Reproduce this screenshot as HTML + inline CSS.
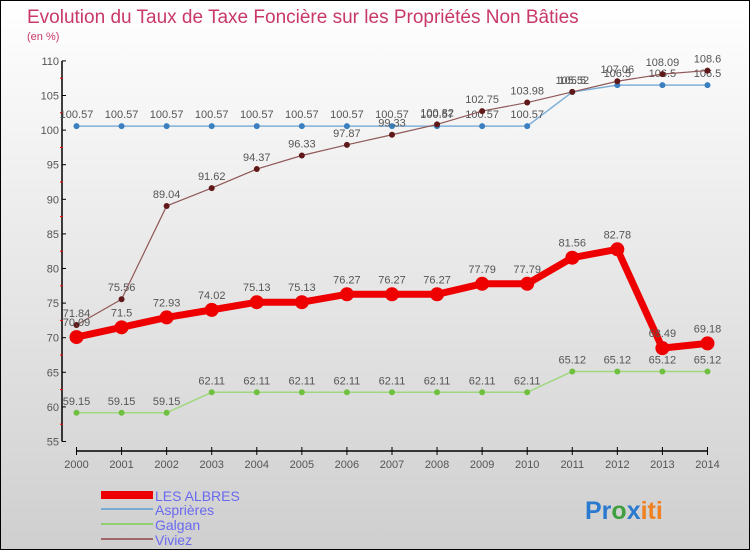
<!DOCTYPE html>
<html><head><meta charset="utf-8"><style>
body{margin:0;}
#c{width:750px;height:550px;position:relative;box-sizing:border-box;border:1px solid #000;background:linear-gradient(#ffffff,#cfcfcf);font-family:"Liberation Sans",sans-serif;overflow:hidden}
svg text{font-family:"Liberation Sans",sans-serif}
</style></head><body>
<div id="c">
<svg width="750" height="550" id="svg">
<text x="26" y="22" font-size="19" fill="#c8386a">Evolution du Taux de Taxe Foncière sur les Propriétés Non Bâties</text>
<text x="26" y="39" font-size="11" fill="#c8386a">(en %)</text>
<g id="axes"></g><g id="series"></g>
<g>
<rect x="100" y="490" width="52" height="8" fill="#e00"/>
<text x="154" y="500" font-size="14" fill="#6a6af0">LES ALBRES</text>
<line x1="100" y1="508" x2="152" y2="508" stroke="#7aaad0" stroke-width="2"/>
<text x="154" y="514" font-size="14" fill="#6a6af0">Asprières</text>
<line x1="100" y1="523" x2="152" y2="523" stroke="#90d070" stroke-width="2"/>
<text x="154" y="529" font-size="14" fill="#6a6af0">Galgan</text>
<line x1="100" y1="538" x2="152" y2="538" stroke="#a06868" stroke-width="2"/>
<text x="154" y="544" font-size="14" fill="#6a6af0">Viviez</text>
</g>
<text x="584" y="518" font-size="25" font-weight="bold"><tspan fill="#2a7ad0">Pr</tspan><tspan fill="#40a040">o</tspan><tspan fill="#2a7ad0">x</tspan><tspan fill="#f08020">iti</tspan></text>
</svg>
</div>
<script>
const years=[2000,2001,2002,2003,2004,2005,2006,2007,2008,2009,2010,2011,2012,2013,2014];
const albres=[70.09,71.5,72.93,74.02,75.13,75.13,76.27,76.27,76.27,77.79,77.79,81.56,82.78,68.49,69.18];
const aspieres=[100.57,100.57,100.57,100.57,100.57,100.57,100.57,100.57,100.57,100.57,100.57,105.5,106.5,106.5,106.5];
const galgan=[59.15,59.15,59.15,62.11,62.11,62.11,62.11,62.11,62.11,62.11,62.11,65.12,65.12,65.12,65.12];
const viviez=[71.84,75.56,89.04,91.62,94.37,96.33,97.87,99.33,100.82,102.75,103.98,105.52,107.06,108.09,108.6];
const yTicks=[55,60,65,70,75,80,85,90,95,100,105,110];
const NS="http://www.w3.org/2000/svg";
const X=i=>75.5+i*45.07;
const Y=v=>336.7-(v-70)*6.92;
function mk(tag,attrs,parent){const e=document.createElementNS(NS,tag);for(const k in attrs)e.setAttribute(k,attrs[k]);parent.appendChild(e);return e;}
const ax=document.getElementById('axes');
let yl=mk('line',{x1:61,y1:Y(110),x2:61,y2:Y(55),stroke:'#000','stroke-width':1.5},ax);


yTicks.forEach(v=>{
 mk('line',{x1:61,y1:Y(v),x2:65,y2:Y(v),stroke:'#000'},ax);
 if(v<110) mk('line',{x1:59,y1:Y(v+2.5),x2:62,y2:Y(v+2.5),stroke:'#e00'},ax);
 const t=mk('text',{x:58,y:Y(v)+4,'font-size':11,fill:'#555','text-anchor':'end'},ax);t.textContent=v;
 
 
});
let xl=mk('line',{x1:X(0),y1:450,x2:X(14),y2:450,stroke:'#000','stroke-width':1.5},ax);


years.forEach((y,i)=>{
 mk('line',{x1:X(i),y1:446,x2:X(i),y2:454,stroke:'#000'},ax);
 const t=mk('text',{x:X(i),y:467,'font-size':11,fill:'#555','text-anchor':'middle'},ax);t.textContent=y;
 
 
});
const sg=document.getElementById('series');
function series(data,name,color,lw,r,dot){
 const g=mk('g',{},sg);
 
 
 const p=mk('polyline',{points:data.map((v,i)=>X(i)+','+Y(v)).join(' '),fill:'none',stroke:color,'stroke-width':lw,'stroke-linejoin':'round'},g);
 
 
 data.forEach((v,i)=>{
  const c=mk('circle',{cx:X(i),cy:Y(v),r:r,fill:dot},g);
  
  
  const t=mk('text',{x:X(i),y:Y(v)-8-(r>4?3:0),'font-size':11,fill:'#555','text-anchor':'middle'},g);t.textContent=v;
  
  
 });
}
series(galgan,'galgan','#a0d880',1.5,3,'#70c040');
series(aspieres,'aspieres','#80b0d8',1.5,3,'#3a80c0');
series(viviez,'viviez','#905858',1.2,3,'#601818');
series(albres,'les-albres','#ee0000',7,7,'#ee0000');
</script>
</body></html>
